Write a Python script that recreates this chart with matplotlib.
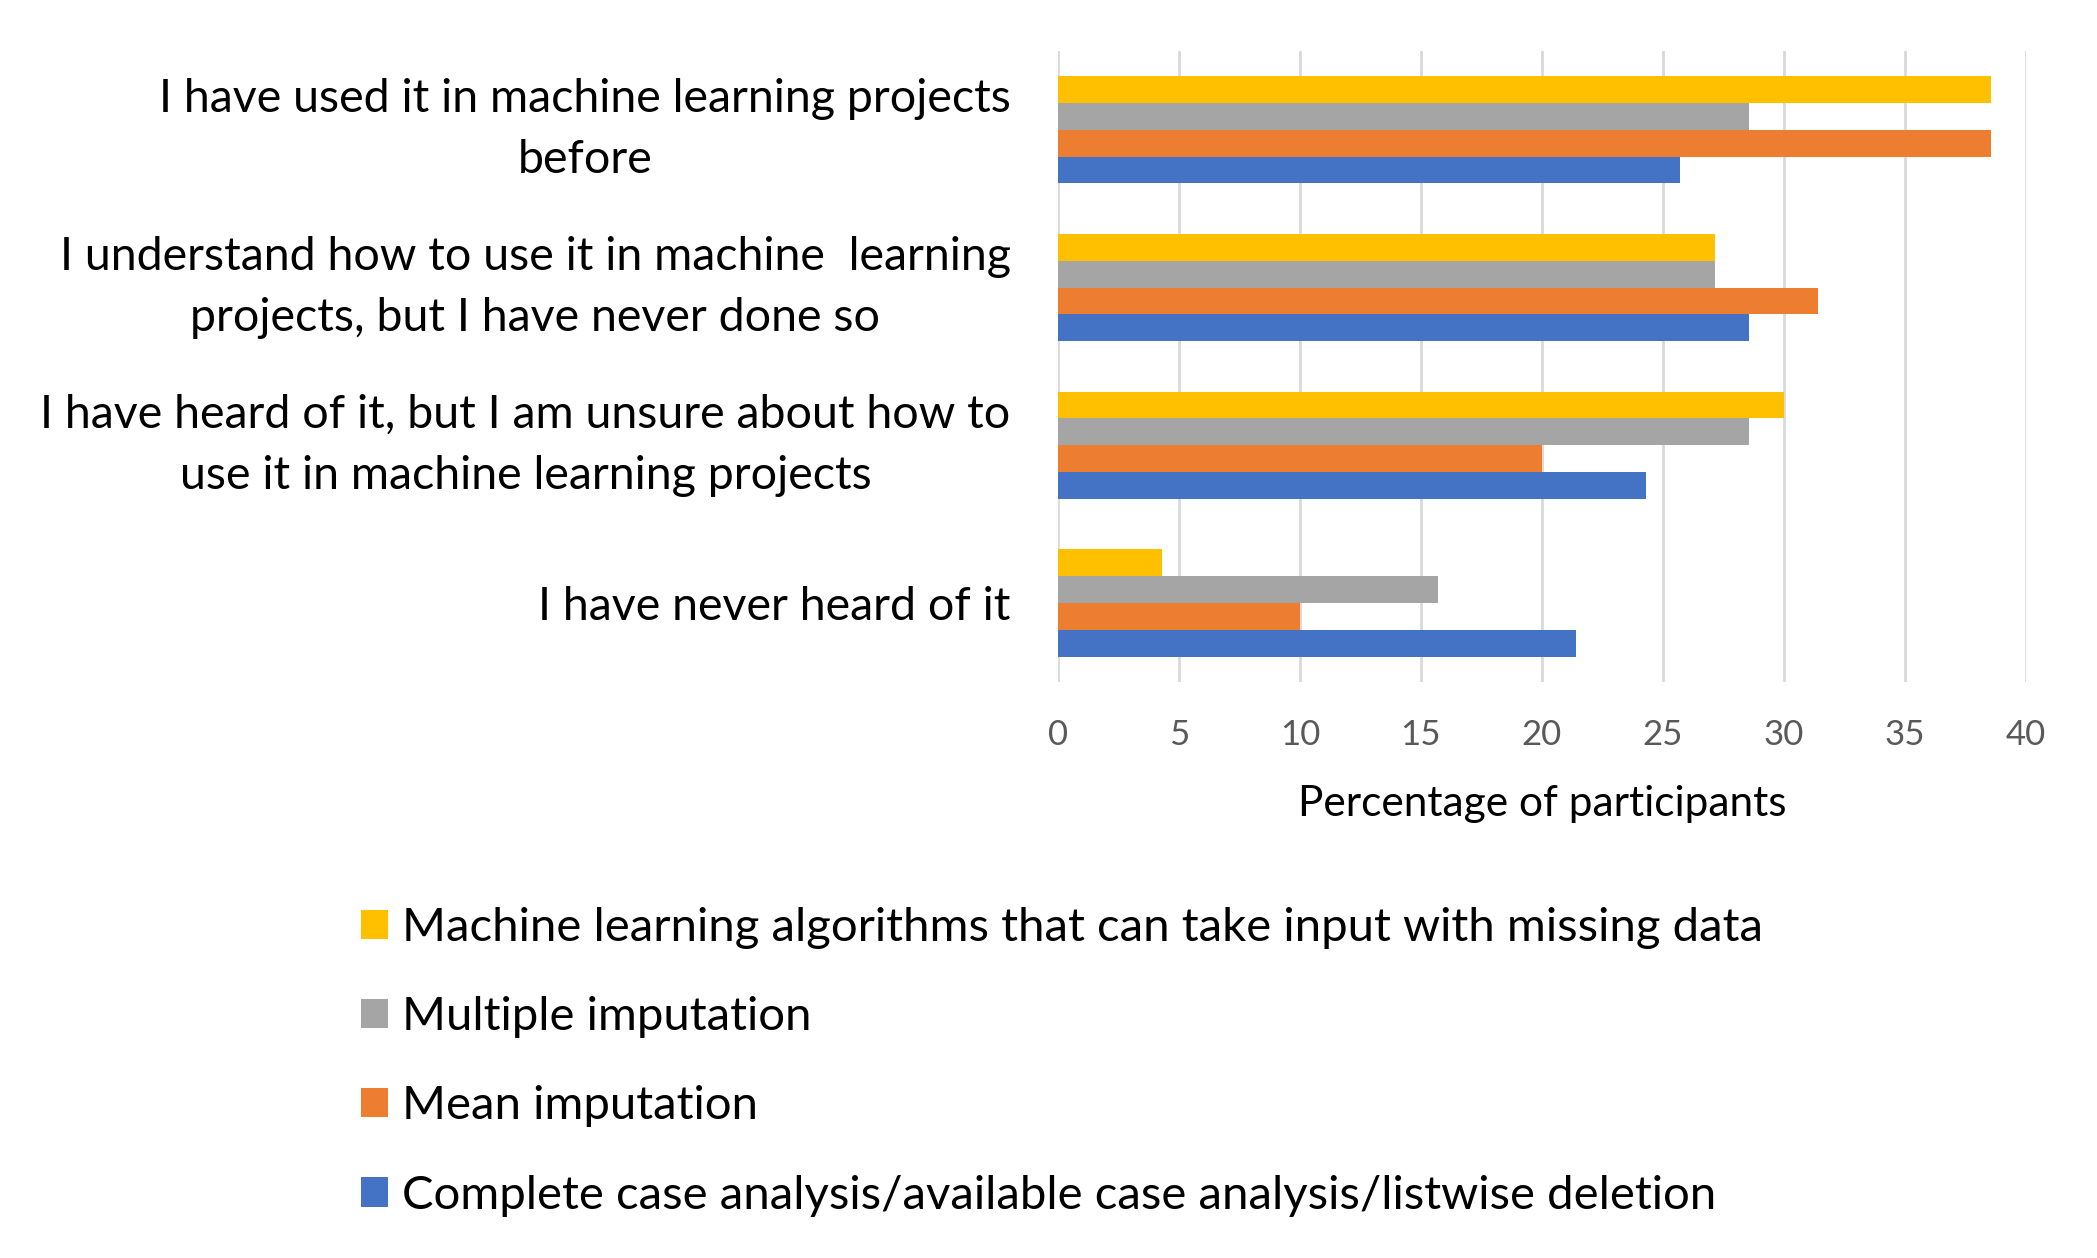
import matplotlib
matplotlib.use('Agg')
import matplotlib.pyplot as plt
import numpy as np

categories = [
    'I have used it in machine learning projects\nbefore',
    'I understand how to use it in machine  learning\nprojects, but I have never done so',
    'I have heard of it, but I am unsure about how to\nuse it in machine learning projects',
    'I have never heard of it',
]
series_names = [
    'Machine learning algorithms that can take input with missing data',
    'Multiple imputation',
    'Mean imputation',
    'Complete case analysis/available case analysis/listwise deletion',
]
ml_algorithms = [38.57, 27.14, 30.00, 4.29]
multiple_imputation = [28.57, 27.14, 28.57, 15.71]
mean_imputation = [38.57, 31.43, 20.00, 10.00]
complete_case = [25.71, 28.57, 24.29, 21.43]
x_ticks = [0, 5, 10, 15, 20, 25, 30, 35, 40]

colors = ['#FFC000', '#A5A5A5', '#ED7D31', '#4472C4']

plt.rcParams['font.family'] = ['Lato', 'DejaVu Sans']

fig = plt.figure(figsize=(20.97, 12.58), dpi=100)
ax = fig.add_axes([0.5045, 0.458, 0.4615, 0.5015])

y = np.arange(len(categories))
h = 0.17
all_series = [ml_algorithms, multiple_imputation, mean_imputation, complete_case]
bars = []
for i, (vals, name, col) in enumerate(zip(all_series, series_names, colors)):
    b = ax.barh(y + (i - 1.5) * h, vals, height=h, color=col, label=name, zorder=3)
    bars.append(b)

ax.set_ylim(len(categories) - 0.5, -0.5)
ax.set_xlim(0, 40)
ax.set_xticks(x_ticks)
ax.set_xticklabels([str(t) for t in x_ticks], fontsize=25, color='#595959')
ax.set_yticks(y)
ax.set_yticklabels(categories, fontsize=33.5)
for t in ax.get_yticklabels():
    t.set_multialignment('center')
    t.set_linespacing(1.55)
    if '\n' in t.get_text():
        t.set_verticalalignment('center')
ax.tick_params(axis='y', length=0, pad=34)
ax.tick_params(axis='x', length=0, pad=27)
ax.grid(axis='x', color='#d9d9d9', linewidth=2, zorder=0)
for s in ax.spines.values():
    s.set_visible(False)
ax.set_xlabel('Percentage of participants', fontsize=30.5, labelpad=24)

fig.legend(handles=bars, labels=series_names, loc='center left',
           bbox_to_anchor=(0.172, 0.156), frameon=False, fontsize=34,
           borderpad=0, borderaxespad=0,
           handlelength=0.58, handleheight=0.58, handletextpad=0.3,
           labelspacing=1.0)

fig.savefig('out.png', dpi=100)
